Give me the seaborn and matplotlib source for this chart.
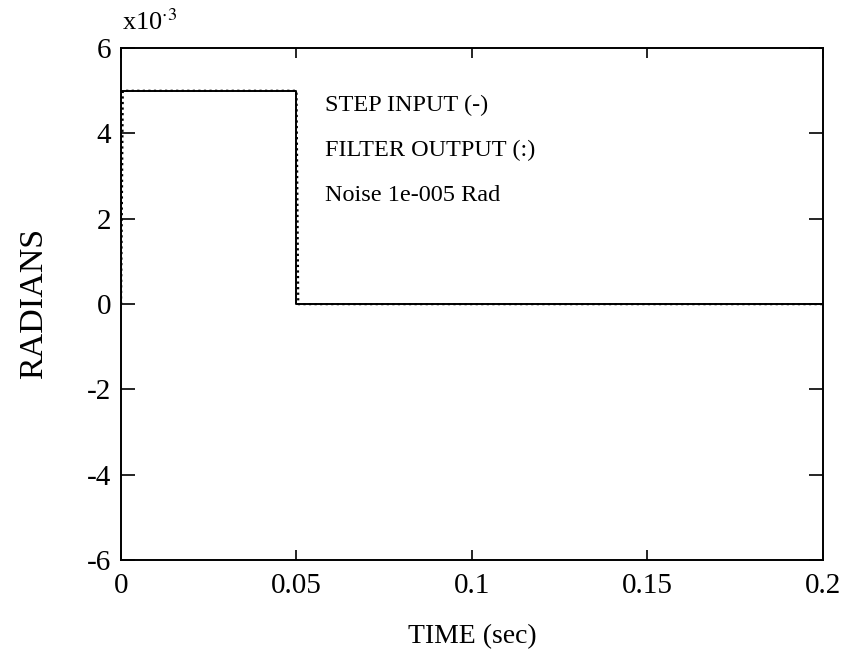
import matplotlib
matplotlib.use("Agg")
import matplotlib.pyplot as plt
import seaborn as sns
import pandas as pd

# Data (values in units of 1e-3 rad)
step_time = [0.0, 0.0, 0.05, 0.05, 0.2]
step_value = [0.0, 5.0, 5.0, 0.0, 0.0]
filt_time = [0.0, 0.0005, 0.0500, 0.0505, 0.2]
filt_value = [0.0, 5.0, 5.0, 0.0, 0.0]
x_ticks = [0, 0.05, 0.1, 0.15, 0.2]
x_tick_labels = ["0", "0.05", "0.1", "0.15", "0.2"]
y_ticks = [-6, -4, -2, 0, 2, 4, 6]
y_tick_labels = ["-6", "-4", "-2", "0", "2", "4", "6"]
annotations = ["STEP INPUT (-)", "FILTER OUTPUT (:)", "Noise 1e-005 Rad"]
annot_y = [4.66, 3.6, 2.55]

sns.set_style("ticks")
plt.rcParams["font.family"] = ["Liberation Serif", "DejaVu Serif"]
plt.rcParams["mathtext.fontset"] = "stix"
plt.rcParams["text.color"] = "black"
plt.rcParams["axes.labelcolor"] = "black"

fig = plt.figure(figsize=(8.5, 6.59), dpi=100)
ax = fig.add_axes([0.1424, 0.150, 0.8256, 0.777])

step_df = pd.DataFrame({"t": step_time, "v": step_value})
filt_df = pd.DataFrame({"t": filt_time, "v": filt_value})
sns.lineplot(data=step_df, x="t", y="v", sort=False, estimator=None,
             color="black", lw=1.4, ax=ax)
sns.lineplot(data=filt_df, x="t", y="v", sort=False, estimator=None,
             color="black", lw=1.6, linestyle=(0, (1, 1.5)), ax=ax)

ax.set_xlim(0, 0.2)
ax.set_ylim(-6, 6)
ax.set_xticks(x_ticks)
ax.set_xticklabels(x_tick_labels)
ax.set_yticks(y_ticks)
ax.set_yticklabels(y_tick_labels)
ax.tick_params(direction="in", width=1.2, top=True, right=True,
               labelsize=21, colors="black")
ax.tick_params(axis="x", length=7, pad=9)
ax.tick_params(axis="y", length=10, pad=7)
for s in ax.spines.values():
    s.set_linewidth(1.4)
    s.set_color("black")

ax.set_xlabel("TIME (sec)", fontsize=20, labelpad=18)
ax.set_ylabel("")
fig.text(0.040, 0.540, "RADIANS", fontsize=24.5, rotation=90,
         ha="center", va="center")

for txt, yv in zip(annotations, annot_y):
    ax.text(0.0581, yv, txt, fontsize=17.5, va="center", ha="left")

fig.text(0.144, 0.967, r"x10$^{\cdot 3}$", fontsize=19, ha="left", va="center")

fig.savefig("out.png", dpi=100)
